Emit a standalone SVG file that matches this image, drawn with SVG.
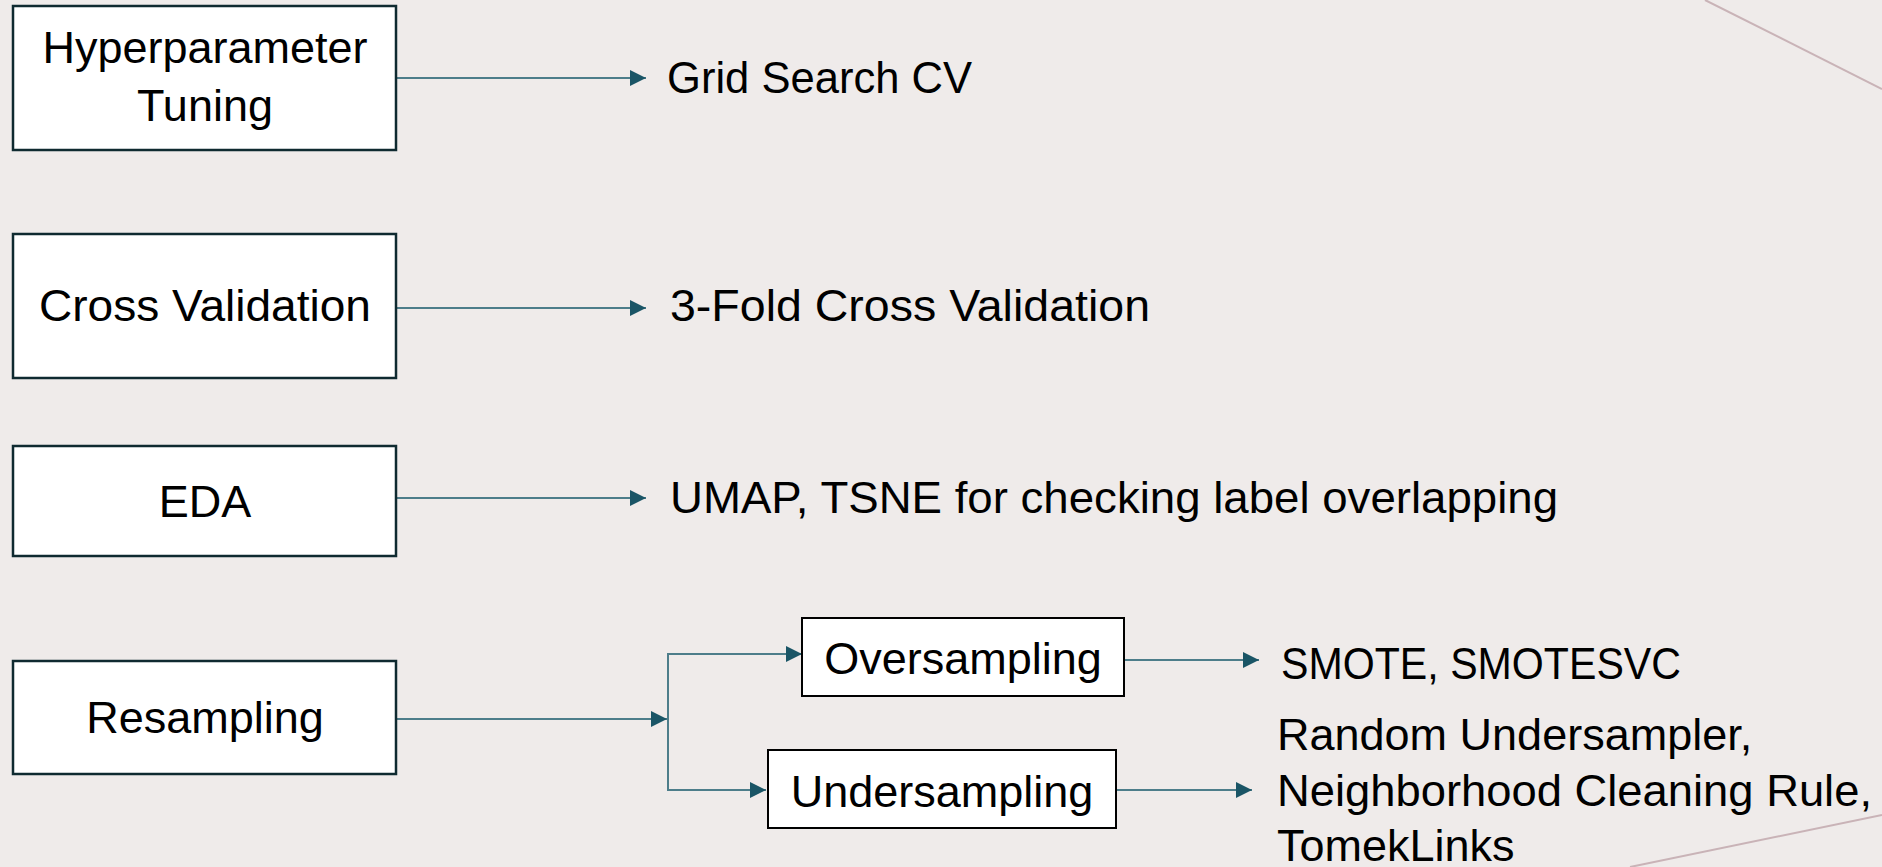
<svg xmlns="http://www.w3.org/2000/svg" width="1882" height="867" viewBox="0 0 1882 867">
<defs>
<style>
.box{fill:#ffffff;stroke:#0f2a30;stroke-width:2.5}
.sbox{fill:#ffffff;stroke:#000000;stroke-width:2}
.t{font-family:"Liberation Sans",Arial,sans-serif;font-size:45px;fill:#000000}
.c{text-anchor:middle}
.conn{fill:none;stroke:#4d7d8a;stroke-width:2}
.deco{fill:none;stroke:#c9b3b7;stroke-width:2}
</style>
<marker id="ah" viewBox="0 0 16 16" refX="16" refY="8" markerWidth="16" markerHeight="16" markerUnits="userSpaceOnUse" orient="auto">
<path d="M0,0 L16,8 L0,16 Z" fill="#1a5566"/>
</marker>
</defs>
<rect x="0" y="0" width="1882" height="867" fill="#efebea"/>
<g id="decor">
<line class="deco" x1="1705" y1="0" x2="1882" y2="89"/>
<line class="deco" x1="1630" y1="867" x2="1882" y2="815"/>
</g>
<g id="connectors">
<line class="conn" x1="397" y1="78" x2="646" y2="78" marker-end="url(#ah)"/>
<line class="conn" x1="397" y1="308" x2="646" y2="308" marker-end="url(#ah)"/>
<line class="conn" x1="397" y1="498" x2="646" y2="498" marker-end="url(#ah)"/>
<line class="conn" x1="397" y1="719" x2="667" y2="719" marker-end="url(#ah)"/>
<polyline class="conn" points="802,654 668,654 668,790 766,790" marker-end="url(#ah)"/>
<line class="conn" x1="669" y1="654" x2="802" y2="654" marker-end="url(#ah)"/>
<line class="conn" x1="1125" y1="660" x2="1259" y2="660" marker-end="url(#ah)"/>
<line class="conn" x1="1117" y1="790" x2="1252" y2="790" marker-end="url(#ah)"/>
</g>
<g id="hyper">
<rect class="box" x="13" y="6" width="383" height="144"/>
<text class="t c" x="205" y="63">Hyperparameter</text>
<text class="t c" x="205" y="121">Tuning</text>
</g>
<g id="grid"><text class="t" x="667" y="93" textLength="305" lengthAdjust="spacingAndGlyphs">Grid Search CV</text></g>
<g id="cv">
<rect class="box" x="13" y="234" width="383" height="144"/>
<text class="t c" x="205" y="321" textLength="332" lengthAdjust="spacingAndGlyphs">Cross Validation</text>
</g>
<g id="fold"><text class="t" x="670" y="321" textLength="480" lengthAdjust="spacingAndGlyphs">3-Fold Cross Validation</text></g>
<g id="eda">
<rect class="box" x="13" y="446" width="383" height="110"/>
<text class="t c" x="205" y="517">EDA</text>
</g>
<g id="umap"><text class="t" x="670" y="513" textLength="888" lengthAdjust="spacingAndGlyphs">UMAP, TSNE for checking label overlapping</text></g>
<g id="resampling">
<rect class="box" x="13" y="661" width="383" height="113"/>
<text class="t c" x="205" y="733">Resampling</text>
</g>
<g id="over">
<rect class="sbox" x="802" y="618" width="322" height="78"/>
<text class="t c" x="963" y="674">Oversampling</text>
</g>
<g id="under">
<rect class="sbox" x="768" y="750" width="348" height="78"/>
<text class="t c" x="942" y="807">Undersampling</text>
</g>
<g id="smote"><text class="t" x="1281" y="679" textLength="400" lengthAdjust="spacingAndGlyphs">SMOTE, SMOTESVC</text></g>
<g id="undermethods">
<text class="t" x="1277" y="750">Random Undersampler,</text>
<text class="t" x="1277" y="806" textLength="595" lengthAdjust="spacingAndGlyphs">Neighborhood Cleaning Rule,</text>
<text class="t" x="1277" y="861">TomekLinks</text>
</g>
</svg>
